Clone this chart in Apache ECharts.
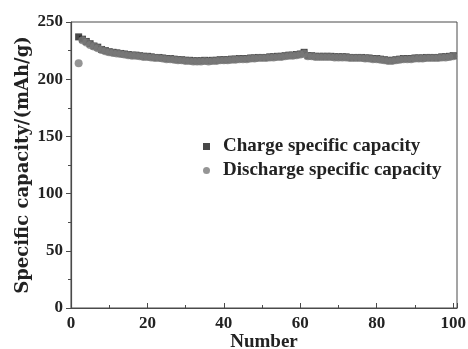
<!DOCTYPE html>
<html lang="en">
<head>
    <meta charset="UTF-8">
    <title>Specific capacity</title>
    <script src="https://cdn.jsdelivr.net/npm/echarts@6/dist/echarts.min.js"></script>
    <style>
        html, body { margin: 0; padding: 0; background: #fff; }
        #main { width: 468px; height: 349px; }
    </style>
</head>
<body>
    <div id="main"></div>
    <script>
        // cycles 2..100
        var cycles = [];
        for (var c = 2; c <= 100; c++) cycles.push(c);

        var chargeCap = [
            237, 235, 233, 231, 229, 228, 226, 225, 224,
            223.5, 223, 222.5, 222, 221.5, 221, 221, 220.5, 220, 220,
            219.5, 219, 219, 218.5, 218, 218, 217.5, 217, 217, 216.5,
            216.5, 216, 216, 216, 216.5, 216, 216.5, 216.5, 217, 217,
            217, 217.5, 217.5, 218, 218, 218, 218.5, 218.5, 219, 219,
            219, 219.5, 219.5, 220, 220, 220.5, 221, 221, 221.5, 222,
            223.5, 220.5, 220.5, 220, 220, 220, 220, 220, 219.5, 219.5,
            219.5, 219.5, 219, 219, 219, 219, 218.5, 218.5, 218, 218,
            217.5, 217, 216.5, 216.5, 217, 217.5, 218, 218, 218, 218.5,
            218.5, 218.5, 219, 219, 219, 219, 219.5, 219.5, 220, 220.5
        ];
        var dischargeCap = [
            214, 234, 232, 230, 228.5, 227, 225.5, 224.5, 223.5,
            223, 222.5, 222, 221.5, 221, 220.5, 220.5, 220, 219.5, 219.5,
            219, 218.5, 218.5, 218, 217.5, 217.5, 217, 216.5, 216.5, 216,
            216, 215.5, 215.5, 215.5, 216, 215.5, 216, 216, 216.5, 216.5,
            216.5, 217, 217, 217.5, 217.5, 217.5, 218, 218, 218.5, 218.5,
            218.5, 219, 219, 219.5, 219.5, 220, 220.5, 220.5, 221, 221.5,
            222.5, 220, 220, 219.5, 219.5, 219.5, 219.5, 219.5, 219, 219,
            219, 219, 218.5, 218.5, 218.5, 218.5, 218, 218, 217.5, 217.5,
            217, 216.5, 216, 216, 216.5, 217, 217.5, 217.5, 217.5, 218,
            218, 218, 218.5, 218.5, 218.5, 218.5, 219, 219, 219.5, 220
        ];

        var pairs = function(ys) {
            return ys.map(function(v, i) { return [cycles[i], v]; });
        };

        var font = 'Liberation Serif';
        var axisColor = '#4a4a4a';
        var textColor = '#222';

        var option = {
            backgroundColor: '#fff',
            animation: false,
            grid: {
                left: 71, right: 11, top: 22, bottom: 41,
                outerBoundsMode: 'none',
                show: true, borderColor: axisColor, borderWidth: 1
            },
            legend: {
                orient: 'vertical',
                left: 198, top: 132,
                itemWidth: 7, itemHeight: 7, itemGap: 5,
                textStyle: {
                    fontFamily: font, fontWeight: 'bold', fontSize: 19, color: textColor,
                    padding: [0, 0, 0, 8]
                },
                data: [
                    { name: 'Charge specific capacity', icon: 'rect' },
                    { name: 'Discharge specific capacity', icon: 'circle' }
                ]
            },
            xAxis: {
                type: 'value',
                min: 0, max: 101, interval: 20,
                name: 'Number',
                nameLocation: 'middle',
                nameGap: 25,
                nameMoveOverlap: false,
                nameTextStyle: { fontFamily: font, fontWeight: 'bold', fontSize: 19, color: textColor },
                splitLine: { show: false },
                axisLine: { lineStyle: { color: axisColor, width: 1.2 } },
                axisTick: { inside: true, length: 5, lineStyle: { color: axisColor } },
                minorTick: { show: true, splitNumber: 2, length: 3, lineStyle: { color: axisColor } },
                axisLabel: {
                    margin: 7,
                    fontFamily: font, fontWeight: 'bold', fontSize: 17, color: textColor,
                    formatter: function(v) { return v % 20 === 0 ? String(v) : ''; }
                }
            },
            yAxis: {
                type: 'value',
                min: 0, max: 250, interval: 50,
                name: 'Specific capacity/(mAh/g)',
                nameLocation: 'middle',
                nameGap: 39,
                nameMoveOverlap: false,
                nameTextStyle: { fontFamily: 'DejaVu Serif', fontWeight: 'bold', fontSize: 18, color: textColor },
                splitLine: { show: false },
                axisLine: { show: true, lineStyle: { color: axisColor, width: 1.2 } },
                axisTick: { inside: false, length: 5, lineStyle: { color: axisColor } },
                minorTick: { show: true, splitNumber: 2, length: 3, lineStyle: { color: axisColor } },
                axisLabel: {
                    margin: 8,
                    fontFamily: font, fontWeight: 'bold', fontSize: 17, color: textColor
                }
            },
            series: [
                {
                    name: 'Charge specific capacity',
                    type: 'scatter',
                    symbol: 'rect',
                    symbolSize: 7,
                    itemStyle: { color: '#1a1a1a' },
                    data: pairs(chargeCap)
                },
                {
                    name: 'Discharge specific capacity',
                    type: 'scatter',
                    symbol: 'circle',
                    symbolSize: 8,
                    itemStyle: { color: '#7b7b7b' },
                    data: pairs(dischargeCap)
                }
            ]
        };

        var myChart = echarts.init(document.getElementById('main'));
        myChart.setOption(option);
    </script>
</body>
</html>
